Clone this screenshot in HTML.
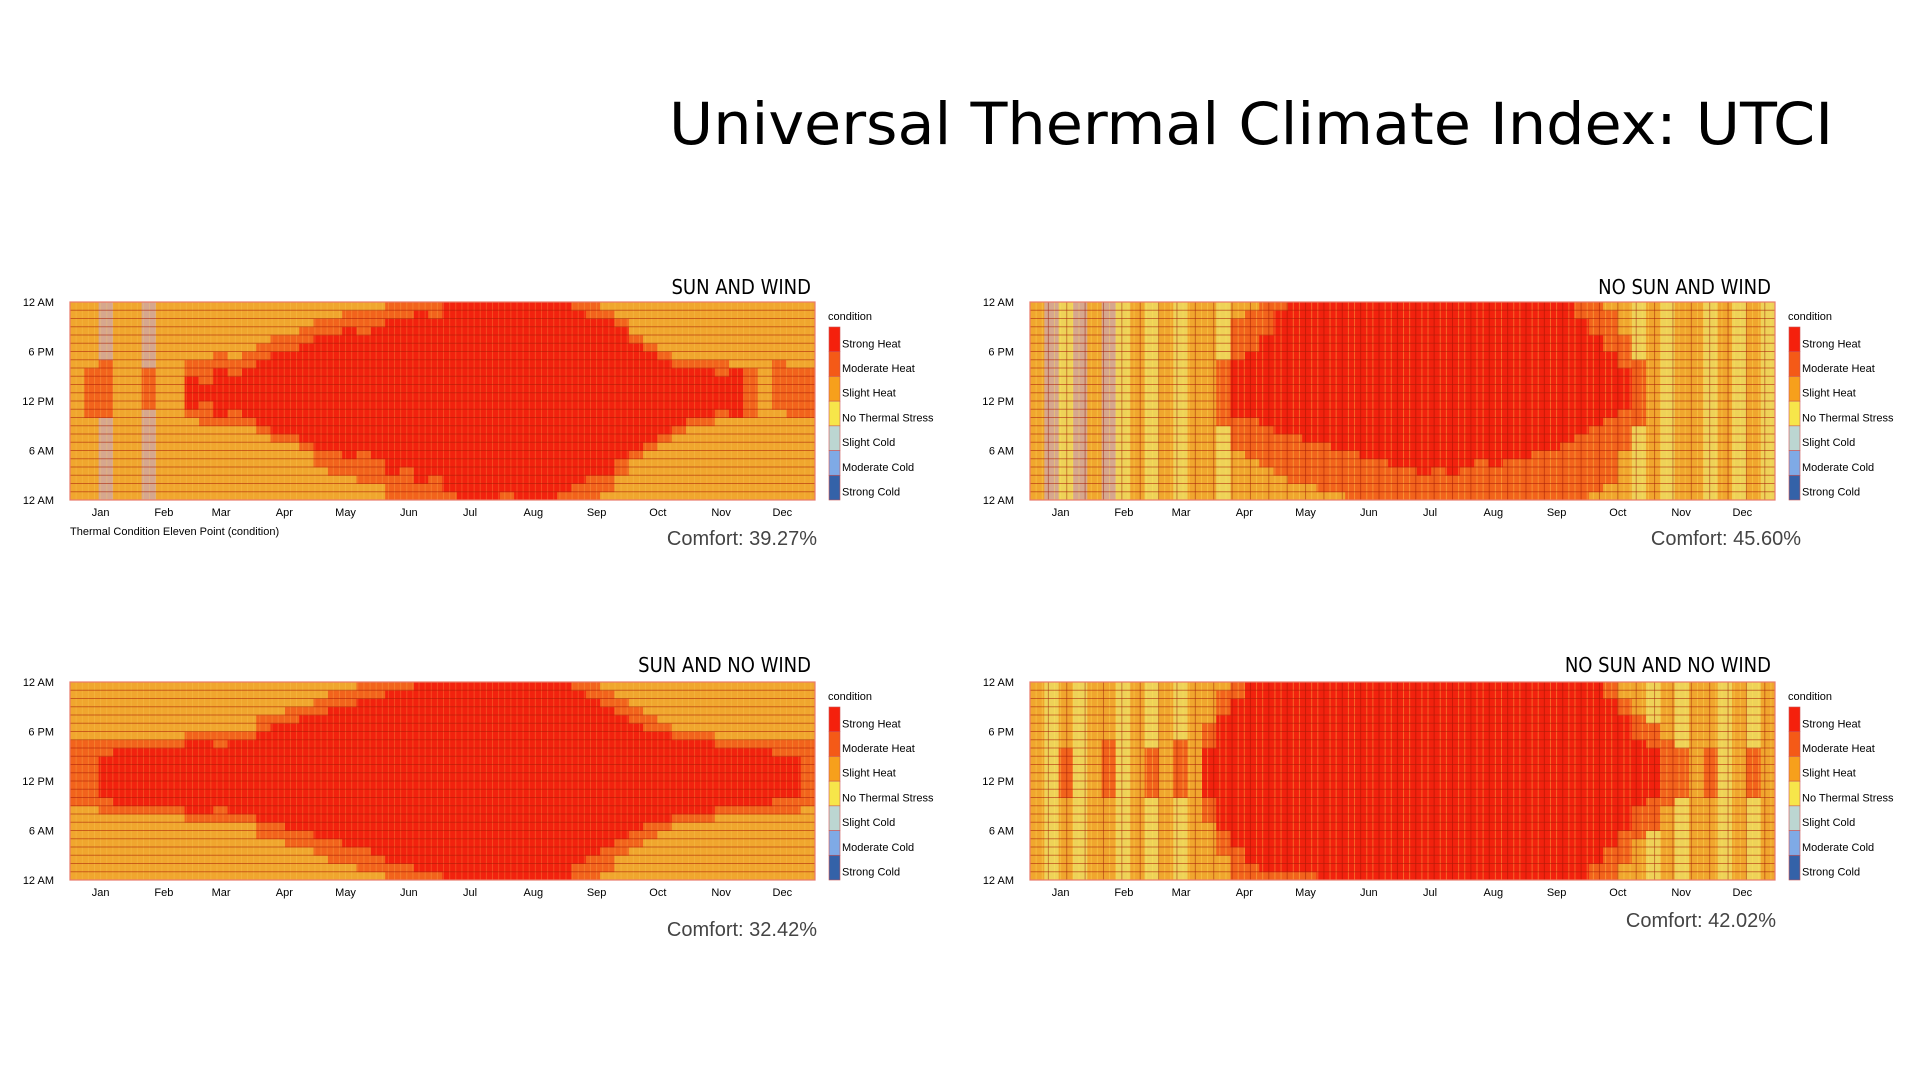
<!DOCTYPE html>
<html><head><meta charset="utf-8"><style>
html,body{margin:0;padding:0;background:#fff;width:1920px;height:1080px;overflow:hidden}
svg{display:block}
text{font-family:"Liberation Sans",Arial,sans-serif}
</style></head><body>
<svg id="root" width="1920" height="1080" viewBox="0 0 1920 1080">
<text x="1833" y="144" text-anchor="end" font-size="58" textLength="1164" lengthAdjust="spacingAndGlyphs" style="font-family:'DejaVu Sans Condensed','DejaVu Sans',sans-serif" fill="#000">Universal Thermal Climate Index: UTCI</text>
</svg>
<script>
// ---- data ----
const months = ["Jan","Feb","Mar","Apr","May","Jun","Jul","Aug","Sep","Oct","Nov","Dec"];
const monthMid = [15,46,74,105,135,166,196,227,258,288,319,349];
const yTicks = ["12 AM","6 PM","12 PM","6 AM","12 AM"];
const legendLabels = ["Strong Heat","Moderate Heat","Slight Heat","No Thermal Stress","Slight Cold","Moderate Cold","Strong Cold"];
const legendColors = ["#f5200c","#f45a17","#f7a01c","#f7e64a","#bcd6d2","#7faae6","#3462a8"];
const chartTitles = ["SUN AND WIND","NO SUN AND WIND","SUN AND NO WIND","NO SUN AND NO WIND"];
const comfortValues = ["39.27%","45.60%","32.42%","42.02%"];

// per-week (52) hour ranges for Strong Heat and Moderate Heat; base category string
const tlHeatLo = [12,12,12,12,12,12,12,12, 11,12,10,11,10, 9,8,8,7, 6,6,5,6,5, 3,4,2,3, 1,0,0,0,1,0,0,0,1, 2,3,3,5, 6,7,8,9, 10,10,11,10, 12,12,12,12,12];
const tlHeatHi = [12,12,12,12,12,12,12,12, 15,14,16,15,16, 17,18,18,19, 20,20,21,20,21, 22,22,23,22, 24,24,24,24,24,24,24,24,24, 23,22,22,21, 19,18,17,16, 16,16,15,16, 12,12,12,12,12];
const tlModLo = [12,10,10,12,12,11,12,12, 10,9,9,9,9, 8,7,7,6, 4,3,3,2,2, 0,0,0,0, 0,0,0,0,0,0,0,0,0, 0,0,1,3, 5,6,7,8, 9,9,10,10, 10,12,11,10,10];
const tlModHi = [12,16,17,12,12,16,12,12, 17,17,18,17,18, 19,20,20,21, 22,22,23,23,23, 24,24,24,24, 24,24,24,24,24,24,24,24,24, 24,24,23,22, 20,19,18,17, 17,17,17,16, 16,12,17,16,16];
const tlBase = "SSCSSCSSSSSSSSSSSSSSSSSSSSSSSSSSSSSSSSSSSSSSSSSSSSSS";

const trHeatLo = [12,12,12,12,12,12,12,12,12,12,12,12,12,12, 10,10,9, 8,8,7,7,6, 6,5,5,4, 4,3,4,3,4,5,4,5,5,6,6,7, 8,9,10, 11, 12,12,12,12,12,12,12,12,12,12];
const trHeatHi = [12,12,12,12,12,12,12,12,12,12,12,12,12,12, 17,18,20, 23,24,24,24,24, 24,24,24,24, 24,24,24,24,24,24,24,24,24,24,24,24, 22,20,18, 16, 12,12,12,12,12,12,12,12,12,12];
const trModLo = [12,12,12,12,12,12,12,12,12,12,12,12,12, 9, 6,5,4, 3,2,2,1,1, 0,0,0,0, 0,0,0,0,0,0,0,0,0,0,0,0, 0,1,2, 6, 9, 12,12,12,12,12,12,12,12,12];
const trModHi = [12,12,12,12,12,12,12,12,12,12,12,12,12, 17, 22,23,24, 24,24,24,24,24, 24,24,24,24, 24,24,24,24,24,24,24,24,24,24,24,24, 24,24,23, 20, 17, 12,12,12,12,12,12,12,12,12];
const trBase = "SCNCSCNSNSNSSNSSSSSSSSSSSSSSSSSSSSSSSSSSSSNSNSSNSNSN";

const blHeatLo = [12,12,10,9,9,9,9,9, 8,8,9,8,8, 7,7,6,6, 5,5,4,4,3, 2,2,1,1, 0,0,0,0,0,0,0,0,0, 2,3,4,5, 6,7,7,8, 8,8,9,9,9, 9,10,10,12];
const blHeatHi = [12,12,15,16,16,16,16,16, 17,17,16,17,17, 18,19,19,20, 20,21,21,22,22, 23,23,24,24, 24,24,24,24,24,24,24,24,24, 23,22,21,20, 19,18,18,17, 17,17,16,16,16, 16,15,15,12];
const blModLo = [9,9,8,8,8,8,8,8, 7,7,7,7,7, 5,5,4,4, 3,2,2,1,1, 0,0,0,0, 0,0,0,0,0,0,0,0,0, 0,0,1,3, 4,5,6,7, 7,7,8,8,8, 8,8,8,9];
const blModHi = [17,17,17,17,17,17,17,17, 18,18,18,18,18, 20,20,21,21, 22,23,23,24,24, 24,24,24,24, 24,24,24,24,24,24,24,24,24, 24,24,23,22, 21,20,19,18, 18,18,17,17,17, 17,17,17,17];
const blBase = "SSSSSSSSSSSSSSSSSSSSSSSSSSSSSSSSSSSSSSSSSSSSSSSSSSSS";

const brHeatLo = [12,12,12,12,12,12,12,12,12,12,12,12, 10,6,4, 2,1,1, 1,1,0,0,0,0,0,0,0,0,0,0,0,0,0,0,0,0,0,0,0, 2,4,6, 9,10, 12,12,12,12,12,12,12,12];
const brHeatHi = [12,12,12,12,12,12,12,12,12,12,12,12, 16,20,22, 24,24,24, 24,24,24,24,24,24,24,24,24,24,24,24,24,24,24,24,24,24,24,24,24, 24,22,20, 17,16, 12,12,12,12,12,12,12,12];
const brModLo = [12,12,10,12,12,10,12,12,10,12,10,12, 7,3,0, 0,0,0, 0,0,0,0,0,0,0,0,0,0,0,0,0,0,0,0,0,0,0,0,0, 0,0,2, 5,6, 9,10, 12,10,12,12,10,12];
const brModHi = [12,12,16,12,12,17,12,12,16,12,17,12, 19,23,24, 24,24,24, 24,24,24,24,24,24,24,24,24,24,24,24,24,24,24,24,24,24,24,24,24, 24,24,22, 20,19, 17,16, 12,16,12,12,16,12];
const brBase = "SNSNSSNSNSNSSSSSSSSSSSSSSSSSSSSSSSSSSSSSSSSNSNSSNSNS";

const NS='http://www.w3.org/2000/svg';
const root=document.getElementById('root');
const catColor={H:"#f2220e",M:"#f2631c",S:"#f0a62e",N:"#eed258",C:"#d6a78e"};

function mk(tag,attrs,parent){const e=document.createElementNS(NS,tag);for(const k in attrs)e.setAttribute(k,attrs[k]);(parent||root).appendChild(e);return e;}
function txt(x,y,s,size,anchor,parent,fill){const t=mk('text',{x:x,y:y,'font-size':size,'text-anchor':anchor||'start',fill:fill||'#000'},parent);t.textContent=s;return t;}

const charts=[
 {x:70,y:302,hl:tlHeatLo,hh:tlHeatHi,ml:tlModLo,mh:tlModHi,base:tlBase,titleY:294,compX:817,compY:545,name:'sun-and-wind',striped:false},
 {x:1030,y:302,hl:trHeatLo,hh:trHeatHi,ml:trModLo,mh:trModHi,base:trBase,titleY:294,compX:1801,compY:545,name:'no-sun-and-wind',striped:true},
 {x:70,y:682,hl:blHeatLo,hh:blHeatHi,ml:blModLo,mh:blModHi,base:blBase,titleY:672,compX:817,compY:936,name:'sun-and-no-wind',striped:false},
 {x:1030,y:682,hl:brHeatLo,hh:brHeatHi,ml:brModLo,mh:brModHi,base:brBase,titleY:672,compX:1776,compY:927,name:'no-sun-and-no-wind',striped:true}
];
const W=745,H=198,NW=52;

charts.forEach((c,ci)=>{
  const g=mk('g',{});
  
  
  const xS=w=>c.x+w*W/NW;
  const yS=h=>c.y+(24-h)*H/24;
  const cells=mk('g',{},g);
  
  
  for(let w=0;w<NW;w++){
    for(let h=0;h<24;h++){
      let cat=c.base[w]||'S';
      if(h>=c.ml[w]&&h<c.mh[w])cat='M';
      if(h>=c.hl[w]&&h<c.hh[w])cat='H';
      const r=mk('rect',{x:xS(w),y:yS(h+1),width:W/NW+0.4,height:H/24+0.4,fill:catColor[cat]},cells);
      
      
    }
  }
  const tex=mk('g',{},g);
  for(let d=0;d<365;d+=3){
    const xx=c.x+d*W/365;
    mk('line',{x1:xx,x2:xx,y1:c.y,y2:c.y+H,stroke:c.striped?(d%9==0?'rgba(150,20,0,0.45)':'rgba(255,235,90,0.35)'):'rgba(255,225,100,0.22)','stroke-width':1},tex);
  }
  for(let h=1;h<24;h++){
    mk('line',{x1:c.x,x2:c.x+W,y1:yS(h),y2:yS(h),stroke:'rgba(170,30,10,0.55)','stroke-width':1},tex);
  }
  mk('rect',{x:c.x,y:c.y,width:W,height:H,fill:'none',stroke:'#e87a6a','stroke-width':1.2},g);
  const yl=c.x-16;
  yTicks.forEach((t,i)=>{const e=txt(yl,c.y+i*H/4+4,t,11,'end',g);});
  monthMid.forEach((d,i)=>{const e=txt(c.x+d*W/365,c.y+H+16,months[i],11,'middle',g);});
  const t=txt(c.x+W-4,c.titleY,chartTitles[ci],20,'end',g);
  t.setAttribute('style',"font-family:'DejaVu Sans Condensed','DejaVu Sans',sans-serif");
  
  
  const cf=txt(c.compX,c.compY,'Comfort: '+comfortValues[ci],20,'end',g,'#444');
  
  
  const lg=mk('g',{},g);
  
  
  const lx=c.x+W+14;
  const lt=txt(lx-1,c.y+18,'condition',11,'start',lg);
  
  
  const top=c.y+25,sh=(H-25)/7;
  legendLabels.forEach((l,i)=>{
    const r=mk('rect',{x:lx,y:top+i*sh,width:11,height:sh,fill:legendColors[i],stroke:'#c55','stroke-width':0.6},lg);
    
    
    const e=txt(lx+13,top+i*sh+sh*0.82,l,11,'start',lg);
    
    
  });
  if(ci===0){const e=txt(70,535,'Thermal Condition Eleven Point (condition)',11,'start',g);}
});
</script>
</body></html>
